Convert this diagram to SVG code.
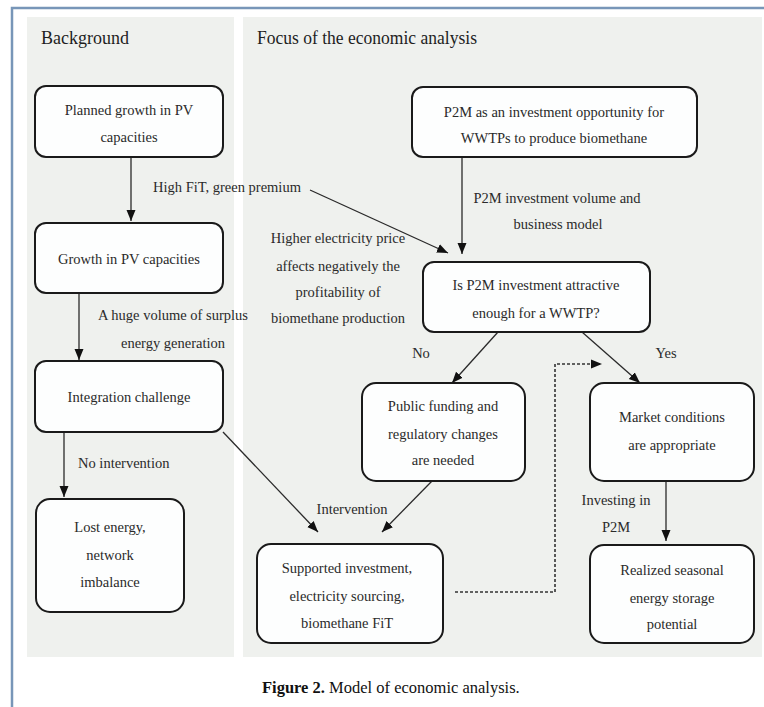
<svg xmlns="http://www.w3.org/2000/svg" width="764" height="707" viewBox="0 0 764 707">
<style>
.frame{stroke:#7896b8;stroke-width:2.5;fill:none}
.panel{fill:#eff1ee}
.title{font-family:"Liberation Serif",serif;font-size:18px;fill:#1e1e1e}
.box{fill:#fdfefe;stroke:#1a1a1a;stroke-width:2}
.t{font-family:"Liberation Serif",serif;font-size:14.5px;fill:#2a2a2a;text-anchor:middle}
.lbl{font-family:"Liberation Serif",serif;font-size:14.5px;fill:#2a2a2a}
.c{stroke:#2a2a2a;stroke-width:1.3;fill:none}
.dot{stroke:#333;stroke-width:1.6;fill:none;stroke-dasharray:3 2}
.cap{font-family:"Liberation Serif",serif;font-size:16.5px;fill:#111}
</style>
<defs>
<marker id="ah" markerUnits="userSpaceOnUse" markerWidth="12" markerHeight="12" viewBox="0 0 12 12" refX="11" refY="6" orient="auto">
<path d="M0,1.5 L11,6 L0,10.5 Z" fill="#111"/>
</marker>
</defs>
<rect width="764" height="707" fill="#ffffff"/>
<path class="frame" d="M12,707 V8 H764"/>
<rect class="panel" x="27" y="17" width="207" height="640"/>
<rect class="panel" x="243" y="17" width="519" height="640"/>
<text class="title" x="41" y="44">Background</text>
<text class="title" x="257" y="44" textLength="220" lengthAdjust="spacingAndGlyphs">Focus of the economic analysis</text>

<g id="connectors">
<line class="c" x1="131" y1="157" x2="131" y2="221" marker-end="url(#ah)"/>
<line class="c" x1="79" y1="293" x2="79" y2="360" marker-end="url(#ah)"/>
<line class="c" x1="64" y1="432" x2="64" y2="497" marker-end="url(#ah)"/>
<line class="c" x1="223" y1="432" x2="318" y2="532" marker-end="url(#ah)"/>
<line class="c" x1="310" y1="190" x2="448" y2="253" marker-end="url(#ah)"/>
<line class="c" x1="462" y1="157" x2="462" y2="254" marker-end="url(#ah)"/>
<line class="c" x1="498" y1="332" x2="452" y2="383" marker-end="url(#ah)"/>
<line class="c" x1="582" y1="332" x2="640" y2="383" marker-end="url(#ah)"/>
<line class="c" x1="432" y1="481" x2="382" y2="532" marker-end="url(#ah)"/>
<line class="c" x1="666" y1="481" x2="666" y2="541" marker-end="url(#ah)"/>
<path class="dot" d="M455,592 H555 V364 H602" marker-end="url(#ah)"/>
<text class="lbl" x="153" y="192">High FiT, green premium</text>
<text class="t" x="557" y="203">P2M investment volume and</text>
<text class="t" x="558" y="229">business model</text>
<text class="t" x="338" y="243">Higher electricity price</text>
<text class="t" x="338" y="271">affects negatively the</text>
<text class="t" x="338" y="297">profitability of</text>
<text class="t" x="338" y="323">biomethane production</text>
<text class="t" x="173" y="320">A huge volume of surplus</text>
<text class="t" x="173" y="348">energy generation</text>
<text class="t" x="421" y="358">No</text>
<text class="t" x="666" y="358">Yes</text>
<text class="lbl" x="78" y="468">No intervention</text>
<text class="t" x="352" y="514">Intervention</text>
<text class="t" x="616" y="505">Investing in</text>
<text class="t" x="616" y="532">P2M</text>
</g>

<g id="n1"><rect class="box" x="35" y="86" width="188" height="71" rx="11"/>
<text class="t" x="129" y="115">Planned growth in PV</text>
<text class="t" x="129" y="142">capacities</text></g>

<g id="n2"><rect class="box" x="412" y="87" width="285" height="70" rx="11"/>
<text class="t" x="554" y="117">P2M as an investment opportunity for</text>
<text class="t" x="554" y="143">WWTPs to produce biomethane</text></g>

<g id="n3"><rect class="box" x="35" y="223" width="188" height="70" rx="11"/>
<text class="t" x="129" y="264">Growth in PV capacities</text></g>

<g id="n4"><rect class="box" x="35" y="361" width="188" height="71" rx="11"/>
<text class="t" x="129" y="402">Integration challenge</text></g>

<g id="n5"><rect class="box" x="36" y="499" width="148" height="113" rx="14"/>
<text class="t" x="110" y="532">Lost energy,</text>
<text class="t" x="110" y="560">network</text>
<text class="t" x="110" y="587">imbalance</text></g>

<g id="n6"><rect class="box" x="423" y="262" width="227" height="70" rx="11"/>
<text class="t" x="536" y="290">Is P2M investment attractive</text>
<text class="t" x="536" y="318">enough for a WWTP?</text></g>

<g id="n7"><rect class="box" x="362" y="383" width="163" height="98" rx="14"/>
<text class="t" x="443" y="411">Public funding and</text>
<text class="t" x="443" y="439">regulatory changes</text>
<text class="t" x="443" y="465">are needed</text></g>

<g id="n8"><rect class="box" x="590" y="383" width="164" height="98" rx="14"/>
<text class="t" x="672" y="422">Market conditions</text>
<text class="t" x="672" y="450">are appropriate</text></g>

<g id="n9"><rect class="box" x="257" y="544" width="186" height="99" rx="14"/>
<text class="t" x="347" y="573">Supported investment,</text>
<text class="t" x="347" y="601">electricity sourcing,</text>
<text class="t" x="347" y="628">biomethane FiT</text></g>

<g id="n10"><rect class="box" x="590" y="545" width="164" height="98" rx="14"/>
<text class="t" x="672" y="575">Realized seasonal</text>
<text class="t" x="672" y="603">energy storage</text>
<text class="t" x="672" y="629">potential</text></g>

<text class="cap" x="262" y="693"><tspan font-weight="bold">Figure 2.</tspan> Model of economic analysis.</text>
</svg>
